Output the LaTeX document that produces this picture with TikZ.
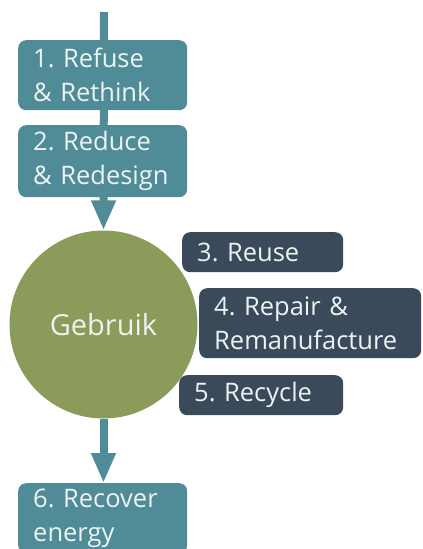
\documentclass[tikz,border=0pt]{standalone}
\usepackage{fontspec}
\setmainfont{Open Sans}
\usetikzlibrary{arrows.meta,backgrounds}
\definecolor{tealc}{HTML}{4F8C98}
\definecolor{slatec}{HTML}{3B4A5A}
\definecolor{olivec}{HTML}{8A9B5A}
\definecolor{paper}{HTML}{EEF3F2}
\frenchspacing
\tikzset{
  rbox/.style={rounded corners=8pt, anchor=north west, align=left,
    inner xsep=15pt, inner ysep=0pt, text=paper,
    font=\fontsize{25.5}{34}\selectfont},
  flow/.style={line width=8pt, tealc, -{Triangle[width=23pt,length=30pt]}}
}
\begin{document}
\begin{tikzpicture}[x=1pt, y=-1pt]
  \useasboundingbox (0,0) rectangle (423,549);
  \clip (0,0) rectangle (423,549);
  \foreach \nm/\xx/\yy/\ww/\hh/\col/\txt in {
    refuse/18/40/169/70/tealc/{1. Refuse\\ \& Rethink},
    reduce/18/125/169/72/tealc/{2. Reduce\\ \& Redesign},
    reuse/182/232/161/40/slatec/{3. Reuse},
    repair/199/288/222/70/slatec/{4. Repair \&\\ Remanufacture},
    recycle/179/375/164/40/slatec/{5. Recycle},
    recover/18/483/169/70/tealc/{6. Recover\\ energy}}
  {
    \node[rbox, fill=\col, text width=\ww pt-30pt, minimum height=\hh pt]
      (\nm) at (\xx,\yy) {\txt};
  }
  \node[circle, fill=olivec, minimum size=188pt, inner sep=0pt, text=paper,
    font=\fontsize{29}{36}\selectfont] (gebruik) at (103.5,324.5) {Gebruik};
  \coordinate (top) at (104,12);
  \begin{scope}[on background layer]
    \draw[flow] (top) -- (gebruik.north);
    \draw[flow] (gebruik.south) -- (recover.north -| gebruik.south);
  \end{scope}
\end{tikzpicture}
\end{document}
